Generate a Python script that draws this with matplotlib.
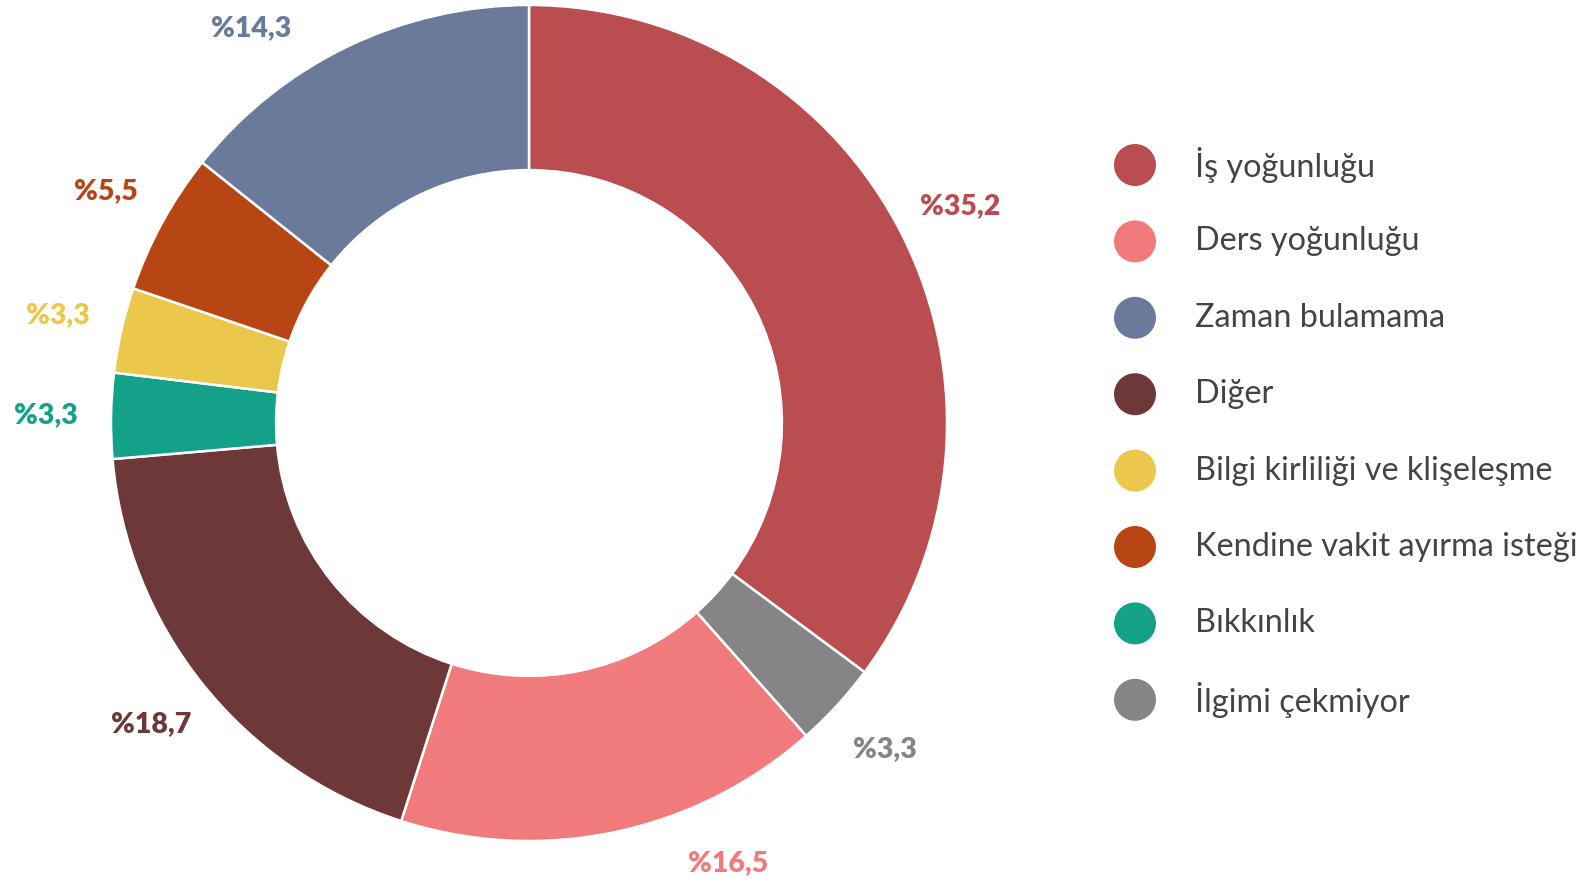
import numpy as np
import matplotlib
matplotlib.use("Agg")
import matplotlib.pyplot as plt

# slices in drawing order, clockwise from 12 o'clock
slice_names = ["İş yoğunluğu", "İlgimi çekmiyor", "Ders yoğunluğu", "Diğer",
               "Bıkkınlık", "Bilgi kirliliği ve klişeleşme",
               "Kendine vakit ayırma isteği", "Zaman bulamama"]
slice_values = [35.2, 3.3, 16.5, 18.7, 3.3, 3.3, 5.5, 14.3]
slice_colors = ["#b94d50", "#858587", "#f07a7c", "#6e3838",
                "#13a189", "#ebc84b", "#b84615", "#6a7a9b"]

legend_order = ["İş yoğunluğu", "Ders yoğunluğu", "Zaman bulamama", "Diğer",
                "Bilgi kirliliği ve klişeleşme", "Kendine vakit ayırma isteği",
                "Bıkkınlık", "İlgimi çekmiyor"]

plt.rcParams['font.family'] = ['Lato', 'DejaVu Sans']

W, H = 1592, 881
fig = plt.figure(figsize=(W / 100, H / 100), dpi=100)

# pie axes: centre (529, 423) px, radius 418 px
cx, cy, R = 529, 423, 418
lim = 1.2
side = 2 * lim * R
ax = fig.add_axes([(cx - side / 2) / W, (H - cy - side / 2) / H, side / W, side / H])

wedges, _ = ax.pie(slice_values, colors=slice_colors, startangle=90, counterclock=False,
                   radius=1.0, wedgeprops=dict(width=0.395, edgecolor="white", linewidth=1.8))
# pie() resets the limits, so fix them afterwards
ax.set_xlim(-lim, lim)
ax.set_ylim(-lim, lim)
ax.set_aspect("equal")
ax.axis("off")

# labels sit on a ring outside the donut, pushed back inside the figure
# vertically (and slid along the ring) when they would fall off the edge
r_lab = 1.155
y_top = (cy - 28) / R
y_bot = -(H - 18 - cy) / R
total = sum(slice_values)
start = 90.0
for val, col in zip(slice_values, slice_colors):
    mid = np.deg2rad(start - val / total * 360 / 2)
    start -= val / total * 360
    x, y = r_lab * np.cos(mid), r_lab * np.sin(mid)
    if y > y_top or y < y_bot:
        y = min(max(y, y_bot), y_top)
        x = np.sign(x) * np.sqrt(r_lab ** 2 - y ** 2)
    ax.text(x, y, "%" + f"{val:.1f}".replace(".", ","),
            color=col, fontsize=20.5, fontweight="heavy", ha="center", va="center",
            clip_on=False)

# legend drawn by hand on a pixel-space overlay
lax = fig.add_axes([0, 0, 1, 1])
lax.set_xlim(0, W)
lax.set_ylim(H, 0)
lax.axis("off")
color_of = dict(zip(slice_names, slice_colors))
row0, step = 165, 76.4
for i, name in enumerate(legend_order):
    y = row0 + i * step
    lax.scatter([1135], [y], s=(42 * 0.72) ** 2, color=color_of[name], edgecolors="none")
    lax.text(1195, y, name, fontsize=23.3, color="#444444", ha="left", va="center")

fig.savefig("out.png", dpi=100, facecolor="white")
